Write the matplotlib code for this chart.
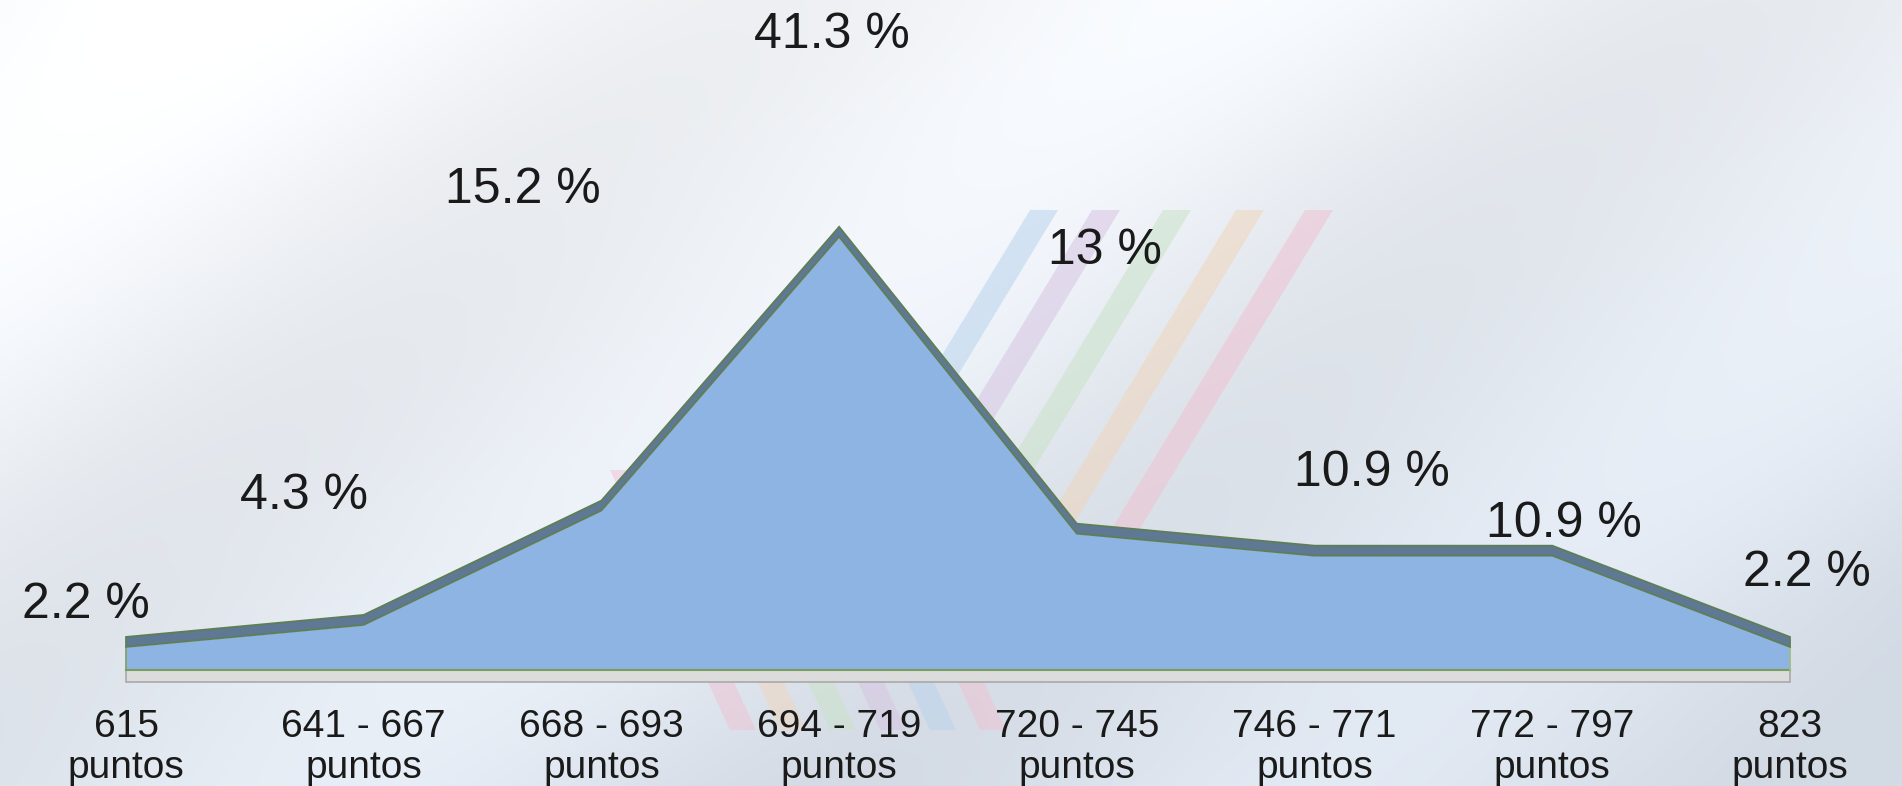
import numpy as np
import matplotlib
matplotlib.use("Agg")
import matplotlib.pyplot as plt
from matplotlib.patches import Polygon

# ---- data ----
categories = ["615\npuntos", "641 - 667\npuntos", "668 - 693\npuntos", "694 - 719\npuntos",
              "720 - 745\npuntos", "746 - 771\npuntos", "772 - 797\npuntos", "823\npuntos"]
values = [2.2, 4.3, 15.2, 41.3, 13.0, 10.9, 10.9, 2.2]
value_labels = ["2.2 %", "4.3 %", "15.2 %", "41.3 %", "13 %", "10.9 %", "10.9 %", "2.2 %"]

# ---- layout (label offsets relative to each point, in data units) ----
label_dx = [-0.17, -0.25, -0.33, -0.03, 0.12, 0.24, 0.05, 0.07]
label_dy = [4.0, 12.3, 30.6, 19.2, 26.9, 7.9, 3.0, 7.0]

W, H = 1902, 786
fig = plt.figure(figsize=(W / 100, H / 100), dpi=100)
plt.rcParams['font.family'] = ['Liberation Sans', 'DejaVu Sans']

# background gradient
bg = fig.add_axes([0, 0, 1, 1])
bg.set_xlim(0, W)
bg.set_ylim(H, 0)
bg.axis("off")
yy, xx = np.mgrid[0:H, 0:W]
t = np.clip((xx / W) * 0.45 + (yy / H) * 0.75, 0, 1)
c0 = np.array([0.985, 0.988, 0.992])
c1 = np.array([0.855, 0.885, 0.925])
img = c0[None, None, :] * (1 - t[..., None]) + c1[None, None, :] * t[..., None]
streak = 0.03 * np.sin((xx * 0.9 + yy) / 140.0)
img = np.clip(img + streak[..., None], 0, 1)
bg.imshow(img, extent=[0, W, H, 0], aspect="auto", zorder=0)

# faint decorative stripes
stripe_cols = ["#b9d3ec", "#d7c4e2", "#c9e2c8", "#f0d6bd", "#efc2d2"]
starts_top = [1030, 1092, 1163, 1236, 1305]
for c, xt in zip(stripe_cols, starts_top):
    poly = [(xt, 210), (xt + 28, 210), (xt + 28 - 200, 540), (xt - 200, 540)]
    bg.add_patch(Polygon(poly, closed=True, color=c, alpha=0.55, lw=0, zorder=1))
low_cols = ["#efc2d2", "#f0d6bd", "#c9e2c8", "#d7c4e2", "#b9d3ec", "#efc2d2"]
for i, c in enumerate(low_cols):
    xt = 610 + i * 50
    poly = [(xt, 470), (xt + 26, 470), (xt + 26 + 120, 730), (xt + 120, 730)]
    bg.add_patch(Polygon(poly, closed=True, color=c, alpha=0.5, lw=0, zorder=1))

# main axes
ax = fig.add_axes([0, 0, 1, 1])
ax.patch.set_alpha(0)
px_per_cat = 237.7
px_per_pct = 10.49
x0_px, base_px = 126, 670
ax.set_xlim(-x0_px / px_per_cat, 7 + (W - 1790) / px_per_cat)
ax.set_ylim(-(H - base_px) / px_per_pct, base_px / px_per_pct)
ax.axis("off")

x = np.arange(len(values))
v = np.array(values)

# floor strip
floor_h = 1.1
ax.add_patch(Polygon([(0, 0), (7, 0), (7, -floor_h), (0, -floor_h)], closed=True,
                     facecolor="#dcdcdc", edgecolor="#a9a9a9", lw=1.2, zorder=2))

# area fill
ax.fill_between(x, 0, v, color="#8db4e2", lw=0, zorder=3)
ax.plot([0, 7], [0, 0], color="#7c9c5e", lw=1.5, zorder=4)
ax.plot([0, 0], [0, v[0]], color="#7c9c5e", lw=1.2, zorder=4)
ax.plot([7, 7], [0, v[-1]], color="#9fbf7e", lw=1.2, zorder=4)

# 3D top band
band = 0.95
verts = list(zip(x, v)) + list(zip(x[::-1], v[::-1] + band))
ax.add_patch(Polygon(verts, closed=True, facecolor="#5f7893", edgecolor="#5e7f55",
                     lw=1.3, zorder=5))

# value labels
for i, (val, lab) in enumerate(zip(values, value_labels)):
    ax.text(i + label_dx[i], val + label_dy[i], lab, ha="center", va="center",
            fontsize=36, color="#1a1a1a", zorder=6)

# category labels (two lines each)
for i, cat in enumerate(categories):
    line1, line2 = cat.split("\n")
    ax.text(i, -(727 - base_px) / px_per_pct, line1, ha="center", va="center",
            fontsize=28, color="#1a1a1a", zorder=6)
    ax.text(i, -(768 - base_px) / px_per_pct, line2, ha="center", va="center",
            fontsize=28, color="#1a1a1a", zorder=6)

fig.savefig("out.png", dpi=100)
